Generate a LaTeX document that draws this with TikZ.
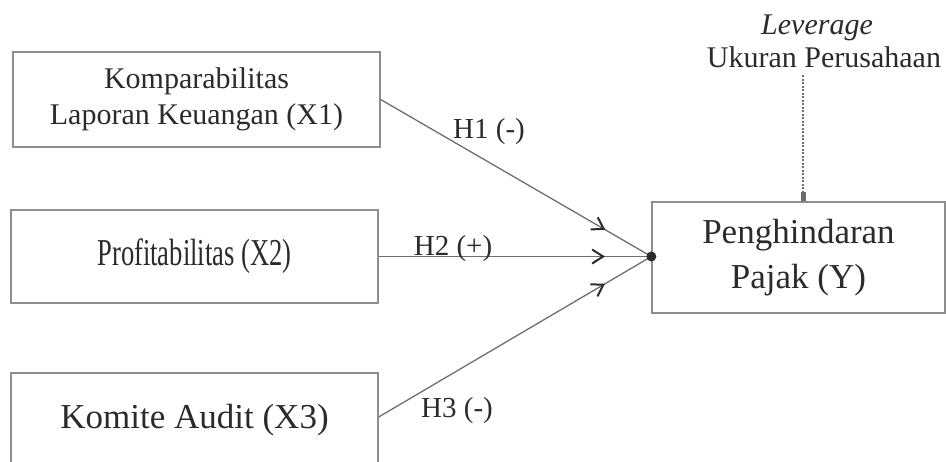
\documentclass[tikz,border=0pt]{standalone}
\usepackage{fontspec}
\setmainfont{Liberation Serif}
\usetikzlibrary{arrows.meta,decorations.markings}
\definecolor{boxgray}{HTML}{8E8E8E}
\definecolor{linegray}{HTML}{6E6E6E}
\definecolor{txtgray}{HTML}{2B2B2B}
\tikzset{
  var/.style={draw=boxgray, line width=1.3pt, inner sep=0pt, text=txtgray, align=center},
  hyp/.style={draw=linegray, line width=1.3pt, postaction={decorate},
    decoration={markings, mark=at position 0.83 with {\arrow[txtgray]{Straight Barb[length=11pt,width=14pt,line width=2pt]}}}},
  lbl/.style={inner sep=0pt, text=txtgray, font=\fontsize{29}{32}\selectfont}
}
\begin{document}
\begin{tikzpicture}[x=1pt,y=-1pt]
\useasboundingbox (0,0) rectangle (946,461);
\node[var, minimum width=367pt, minimum height=95pt, font=\fontsize{30}{38}\selectfont] (x1) at (196.5,99.5) {\raisebox{-4pt}{\shortstack{Komparabilitas\\[6pt] Laporan Keuangan (X1)}}};
\node[var, minimum width=367pt, minimum height=93pt] (x2) at (194.5,256.5) {\scalebox{0.7}[1]{\fontsize{38}{40}\selectfont Profitabilitas (X2)}};
\node[var, minimum width=367pt, minimum height=94pt, font=\fontsize{35}{40}\selectfont] (x3) at (194.5,420) {Komite Audit (X3)};
\node[var, minimum width=293pt, minimum height=111pt, font=\fontsize{35}{45}\selectfont] (y) at (798.5,257.5) {Penghindaran\\ Pajak (Y)};
\node[lbl, anchor=base, font=\itshape\fontsize{30}{33}\selectfont] (lev) at (817,34) {Leverage};
\node[lbl, anchor=base, font=\fontsize{30}{33}\selectfont] (size) at (824,67) {Ukuran Perusahaan};
\coordinate (j) at (y.west |- x2.east);
\coordinate (m) at (803,75);
\draw[hyp] (x1.east) -- (j);
\draw[hyp] (x2.east) -- (j);
\draw[hyp] ([yshift=3pt]x3.east) -- (j);
\fill[txtgray] (j) circle (5pt);
\draw[linegray, line width=1.2pt, dash pattern=on 2pt off 1.5pt, -{Rectangle[length=9pt,width=5pt]}] (m) -- (m |- y.north);
\node[lbl] (h1) at (489,132) {H1 (-)};
\node[lbl] (h2) at (453,249) {H2 (+)};
\node[lbl] (h3) at (457,411) {H3 (-)};
\end{tikzpicture}
\end{document}
